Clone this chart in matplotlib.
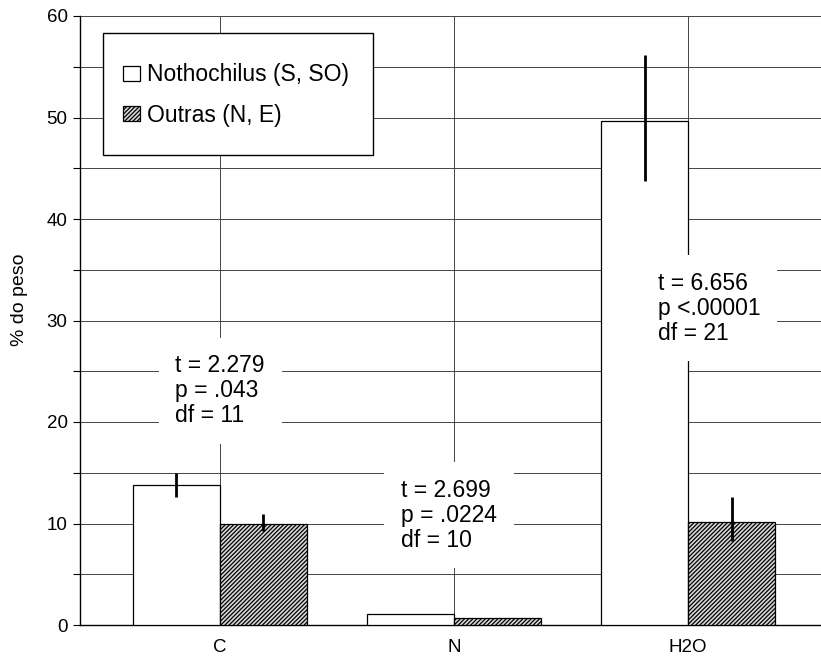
import matplotlib
matplotlib.use("Agg")
import matplotlib.pyplot as plt
import numpy as np
from matplotlib.patches import Rectangle

plt.rcParams['font.family'] = ['Liberation Sans', 'DejaVu Sans']
plt.rcParams['hatch.linewidth'] = 0.9

categories = ["C", "N", "H2O"]
series_names = ["Nothochilus (S, SO)", "Outras (N, E)"]
noto_vals = [13.8, 1.1, 49.7]
noto_lo = [12.6, 1.1, 43.7]
noto_hi = [15.0, 1.1, 56.2]
outras_vals = [10.0, 0.7, 10.1]
outras_lo = [9.3, 0.7, 8.3]
outras_hi = [10.9, 0.7, 12.6]
stats_text = ["t = 2.279\np = .043\ndf = 11",
              "t = 2.699\np = .0224\ndf = 10",
              "t = 6.656\np <.00001\ndf = 21"]
stats_pos = [(-0.19, 23.1), (0.774, 10.8), (1.872, 31.2)]
yticks = [0, 10, 20, 30, 40, 50, 60]

fig = plt.figure(figsize=(8.21, 6.65), dpi=100)
ax = fig.add_axes([80/821, 1-625/665, 741/821, 609/665])

x = np.arange(len(categories))
w = 0.372
b1 = ax.bar(x - w/2, noto_vals, width=w, color='white', edgecolor='black',
            linewidth=0.9, zorder=3, label=series_names[0])
b2 = ax.bar(x + w/2, outras_vals, width=w, color='#d8d8d8', edgecolor='black',
            linewidth=0.9, hatch='////////', zorder=3, label=series_names[1])

nv = np.array(noto_vals); ov = np.array(outras_vals)
ax.errorbar(x - w/2, nv, yerr=[nv - np.array(noto_lo), np.array(noto_hi) - nv],
            fmt='none', ecolor='black', elinewidth=2.0, capsize=0, zorder=4)
ax.errorbar(x + w/2, ov, yerr=[ov - np.array(outras_lo), np.array(outras_hi) - ov],
            fmt='none', ecolor='black', elinewidth=2.0, capsize=0, zorder=4)

for txt, (tx, ty) in zip(stats_text, stats_pos):
    ax.text(tx, ty, txt, ha='left', va='center', fontsize=16.5, linespacing=1.1,
            zorder=6, bbox=dict(facecolor='white', edgecolor='none', pad=12))

ax.set_xlim(-0.598, 2.568)
ax.set_ylim(0, 60)
ax.set_yticks(yticks)
ax.set_yticks(np.arange(5, 60, 10), minor=True)
ax.set_xticks(x)
ax.set_xticklabels(categories, fontsize=13.5)
ax.tick_params(axis='x', length=0, pad=10)
ax.tick_params(axis='y', which='both', length=5, width=0.8, labelsize=13.5, pad=4)
ax.grid(True, which='both', axis='y', color='#444444', linewidth=0.7, zorder=0)
ax.grid(True, which='major', axis='x', color='#444444', linewidth=0.7, zorder=0)
ax.set_axisbelow(True)
for s in ['top', 'right']:
    ax.spines[s].set_visible(False)
for s in ['left', 'bottom']:
    ax.spines[s].set_linewidth(1.0)
ax.set_ylabel("% do peso", fontsize=14)
ax.yaxis.set_label_coords(-52/741, (625-300)/609)

# legend frame
ax.add_patch(Rectangle((23/741, (625-155)/609), 270/741, 122/609, transform=ax.transAxes,
                       facecolor='white', edgecolor='black', linewidth=1.0, zorder=7))
leg = ax.legend(loc='center left', bbox_to_anchor=(43/741, (625-95)/609), frameon=False,
                fontsize=16.5, borderpad=0, handlelength=0.75, handleheight=0.6,
                handletextpad=0.3, labelspacing=0.75, borderaxespad=0)
leg.set_zorder(8)

fig.savefig("out.png", dpi=100)
